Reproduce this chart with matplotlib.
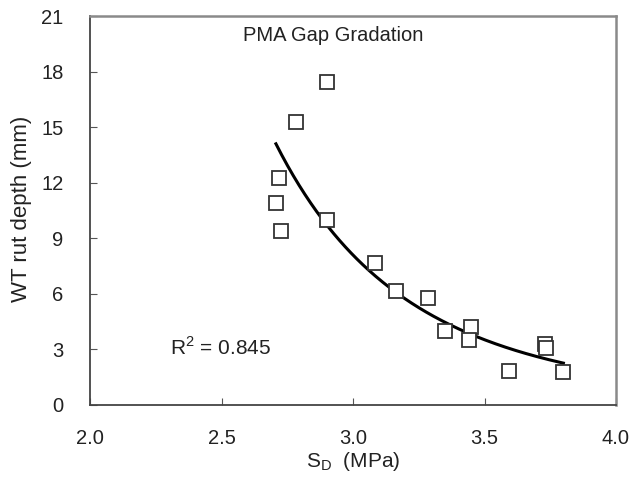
import numpy as np
import matplotlib
matplotlib.use("Agg")
from matplotlib import pyplot as plt

# S_D (MPa) vs WT rut depth (mm)
sd = [2.901, 2.783, 2.719, 2.707, 2.726, 2.901, 3.084, 3.163, 3.285,
      3.350, 3.449, 3.441, 3.593, 3.730, 3.735, 3.800]
rut = [17.44, 15.28, 12.26, 10.90, 9.39, 9.99, 7.67, 6.16, 5.78,
       4.00, 4.21, 3.51, 1.84, 3.29, 3.08, 1.78]

x_ticks = [2.0, 2.5, 3.0, 3.5, 4.0]
y_ticks = [0, 3, 6, 9, 12, 15, 18, 21]

plt.rcParams['font.family'] = ['Liberation Sans', 'DejaVu Sans']
plt.rcParams['mathtext.fontset'] = 'custom'
plt.rcParams['mathtext.rm'] = 'Liberation Sans'

fig = plt.figure(figsize=(6.3, 4.78), dpi=100)
ax = fig.add_axes([90/630, 1-405/478, 526/630, 389/478])

# power trend line, fitted in log space like a spreadsheet trendline
b, lna = np.polyfit(np.log(sd), np.log(rut), 1)
xs = np.linspace(min(sd), max(sd), 200)
ax.plot(xs, np.exp(lna) * xs**b, color='black', lw=2.2, zorder=2)

ax.plot(sd, rut, linestyle='none', marker='s', markersize=10.3,
        markerfacecolor='white', markeredgecolor='#333333', markeredgewidth=1.3, zorder=3)

ax.set_xlim(2.0, 4.0)
ax.set_ylim(0, 21)
ax.set_xticks(x_ticks)
ax.set_xticklabels(['%.1f' % t for t in x_ticks])
ax.set_yticks(y_ticks)
ax.tick_params(direction='in', length=5, labelsize=14.5, color='#555555', labelcolor='#222222')
ax.tick_params(axis='x', pad=17)
ax.tick_params(axis='y', pad=19)
for side in ['left', 'bottom']:
    ax.spines[side].set_color('#444444')
    ax.spines[side].set_linewidth(1.3)
for side in ['top', 'right']:
    ax.spines[side].set_color('#8a8a8a')
    ax.spines[side].set_linewidth(1.8)

ax.set_xlabel('S$_\\mathregular{D}$  (MPa)', fontsize=15, color='#222222')
ax.set_ylabel('WT rut depth (mm)', fontsize=16, color='#222222')
ax.xaxis.set_label_coords(0.5, -0.115)
ax.yaxis.set_label_coords(-0.11, 0.505)

ax.text(0.463, 0.951, 'PMA Gap Gradation', transform=ax.transAxes, ha='center', va='center',
        fontsize=14.5, color='#222222')
ax.text(0.152, 0.149, 'R$^\\mathregular{2}$ = 0.845', transform=ax.transAxes, ha='left', va='center',
        fontsize=15, color='#222222')

fig.savefig('out.png', dpi=100)
